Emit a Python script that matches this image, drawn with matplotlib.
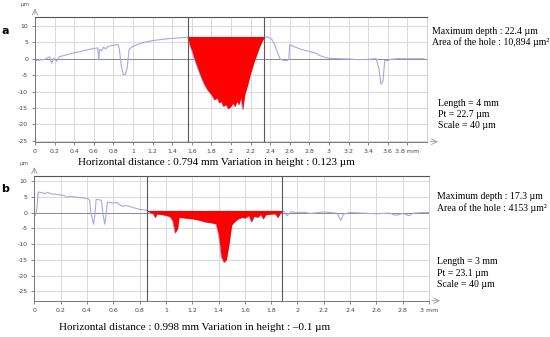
import numpy as np
import matplotlib.pyplot as plt
from matplotlib.transforms import blended_transform_factory


# profile a (x in mm, height in um)
a_x = [
    0.0, 0.05, 0.1, 0.13, 0.15, 0.17, 0.19, 0.22, 0.25, 0.3, 0.35, 0.4, 0.45,
    0.5, 0.55, 0.6, 0.64, 0.65, 0.66, 0.68, 0.7, 0.72, 0.75, 0.8, 0.85, 0.86,
    0.88, 0.9, 0.92, 0.94, 0.96, 1.0, 1.1, 1.2, 1.3, 1.4, 1.5, 1.56,
    1.58, 1.6, 1.62, 1.65, 1.68, 1.7, 1.73, 1.76, 1.8, 1.83, 1.86, 1.88, 1.9,
    1.92, 1.95, 1.97, 2.0, 2.02, 2.04, 2.06, 2.08, 2.1, 2.12, 2.14, 2.17, 2.2,
    2.23, 2.26, 2.29, 2.32, 2.34,
    2.38, 2.42, 2.45, 2.48, 2.5, 2.53, 2.57, 2.59, 2.6, 2.65, 2.7, 2.75, 2.8,
    2.85, 2.88, 2.9, 2.95, 3.0, 3.1, 3.2, 3.3, 3.4, 3.48, 3.51, 3.53, 3.55,
    3.57, 3.6, 3.63, 3.7, 3.8, 3.97
]
a_y = [
    -0.6, -0.4, -0.2, 0.3, 0.6, -1.4, 0.2, -0.8, 0.6, 1.0, 1.4, 1.8, 2.1,
    2.5, 2.8, 3.1, 3.3, -0.4, 2.8, 2.4, 3.5, 3.0, 3.8, 4.1, 4.3, 3.0,
    -2.0, -4.8, -4.9, -3.0, 2.8, 3.8, 4.9, 5.5, 5.9, 6.2, 6.4, 6.5,
    4.0, 2.5, 0.5, -2.0, -4.5, -6.0, -8.0, -9.5, -11.0, -12.5, -12.0, -13.5, -13.0,
    -14.5, -14.0, -15.3, -14.5, -13.5, -14.6, -13.0, -14.0, -12.0, -15.5, -11.0, -8.0, -4.5,
    -1.5, 1.0, 3.5, 5.5, 6.5,
    6.6, 5.8, 4.0, 1.5, 0.0, -0.5, -0.6, -0.2, 4.3, 3.6, 3.0, 2.6, 2.2,
    1.8, 1.5, 1.0, 0.5, 0.1, 0.0, -0.1, -0.3, -0.2, 0.0, -3.0, -7.8, -7.0,
    -0.5, -0.6, -0.2, 0.0, 0.0, 0.0
]

# profile b
b_x = [
    0.0, 0.01, 0.02, 0.03, 0.06, 0.08, 0.1, 0.13, 0.16, 0.2, 0.23, 0.25, 0.27,
    0.3, 0.35, 0.4, 0.42, 0.43, 0.45, 0.46, 0.47, 0.5, 0.51, 0.52, 0.535, 0.545,
    0.555, 0.6, 0.63, 0.65, 0.67, 0.7, 0.75, 0.8, 0.84, 0.86,
    0.88, 0.9, 0.92, 0.93, 0.96, 1.0, 1.03, 1.05, 1.07, 1.09, 1.1, 1.15, 1.2,
    1.25, 1.3, 1.35, 1.38, 1.4, 1.42, 1.44, 1.46, 1.48, 1.5, 1.52, 1.55, 1.58,
    1.6, 1.63, 1.65, 1.67, 1.7, 1.72, 1.74, 1.76, 1.8, 1.83, 1.85, 1.87, 1.886,
    1.9, 1.92, 1.95, 2.0, 2.05, 2.1, 2.2, 2.3, 2.33, 2.35, 2.4, 2.5, 2.6, 2.7,
    2.75, 2.8, 2.85, 2.88, 2.95, 3.0
]
b_y = [
    -1.0, -0.8, 1.5, 6.5, 6.3, 6.0, 6.4, 5.9, 5.8, 5.6, 5.3, 4.8, 5.2,
    5.0, 4.7, 4.5, 4.0, 0.0, -3.7, -1.0, 4.2, 4.0, 3.8, 0.0, -3.7, -1.0,
    3.3, 3.0, 3.2, 2.4, 2.0, 2.2, 1.6, 1.0, 0.8, 0.6,
    0.0, -0.3, -1.6, -0.5, -0.6, -0.9, -1.3, -2.5, -6.5, -5.0, -1.5, -1.8, -2.0,
    -2.4, -3.0, -3.3, -3.6, -7.0, -14.0, -15.8, -15.0, -10.0, -4.0, -3.0, -2.0, -1.5,
    -1.8, -1.0, -3.0, -1.2, -1.5, -0.6, -2.0, -0.7, -0.5, -0.4, -1.6, -0.2, 0.4,
    0.3, -1.0, 0.2, 0.0, 0.1, -0.3, 0.2, -0.2, -2.5, -0.5, 0.0, -0.2, -0.4, -0.2,
    -0.9, -0.3, -1.0, -0.2, 0.0, 0.0
]

panels = [
    dict(label="a", x=a_x, y=a_y, cut=(1.56, 2.34), level=6.5, xmax=4.0,
         ylim=(-25.3, 12.7), rect=[0.0636, 0.5795, 0.7127, 0.370],
         xticks=[0, 0.2, 0.4, 0.6, 0.8, 1, 1.2, 1.4, 1.6, 1.8, 2, 2.2, 2.4,
                 2.6, 2.8, 3, 3.2, 3.4, 3.6, 3.8],
         info1=["Maximum depth : 22.4 µm", "Area of the hole : 10,894 µm²"],
         info1_pos=(432, 0.88, 0.795),
         info2=["Length = 4 mm", "Pt = 22.7 µm", "Scale = 40 µm"],
         info2_pos=(438, 0.31),
         bottom="Horizontal distance : 0.794 mm Variation in height : 0.123 µm",
         bottom_pos=(0.462, -0.17)),
    dict(label="b", x=b_x, y=b_y, cut=(0.86, 1.886), level=0.6, xmax=3.0,
         ylim=(-28.0, 11.7), rect=[0.0624, 0.1077, 0.7176, 0.371],
         xticks=[0, 0.2, 0.4, 0.6, 0.8, 1, 1.2, 1.4, 1.6, 1.8, 2, 2.2, 2.4,
                 2.6, 2.8, 3],
         info1=["Maximum depth : 17.3 µm", "Area of the hole : 4153 µm²"],
         info1_pos=(437, 0.83, 0.74),
         info2=["Length = 3 mm", "Pt = 23.1 µm", "Scale = 40 µm"],
         info2_pos=(437, 0.31),
         bottom="Horizontal distance : 0.998 mm Variation in height : \u20130.1 µm",
         bottom_pos=(0.407, -0.215)),
]

fig = plt.figure(figsize=(5.5, 3.37), dpi=100)

SERIF = "Liberation Serif"
W = 550.0

for p in panels:
    ax = fig.add_axes(p["rect"])
    x = np.array(p["x"])
    y = np.array(p["y"])
    x0, x1 = p["cut"]

    ax.set_xlim(0, p["xmax"])
    ax.set_ylim(*p["ylim"])

    ax.set_xticks(p["xticks"])
    labels = [f"{t:g}" for t in p["xticks"]]
    labels[-1] = labels[-1] + " mm"
    ax.set_xticklabels(labels)
    ax.set_yticks([10, 5, 0, -5, -10, -15, -20, -25])
    ax.set_yticklabels(["10", "5", "0", "-5", "-10", "-15", "-20", "-25"])

    ax.grid(True, color="#dadada", linewidth=0.7)
    ax.set_axisbelow(True)
    ax.axhline(0, color="#8a8a8a", linewidth=0.7, zorder=1)

    # profile
    ax.plot(x, y, color="#a5a8e6", linewidth=0.8, zorder=2)

    # hole area in red
    m = (x >= x0) & (x <= x1)
    ax.fill_between(x[m], y[m], p["level"], color="#ff0000", linewidth=0, zorder=3)
    ax.plot([x0, x1], [p["level"], p["level"]], color="#ff0000", linewidth=0.8, zorder=3)

    ax.axvline(x0, color="#5a5a5a", linewidth=0.8, zorder=4)
    ax.axvline(x1, color="#5a5a5a", linewidth=0.8, zorder=4)

    ax.tick_params(labelsize=4.5, colors="#555555", length=2, width=0.5, pad=3)
    ax.tick_params(axis="both", labelcolor="#444444")
    for s in ["left", "bottom"]:
        ax.spines[s].set_color("#777777")
        ax.spines[s].set_linewidth(0.7)
    ax.spines["top"].set_color("#555555")
    ax.spines["top"].set_linewidth(0.8)
    ax.spines["right"].set_color("#c8c8c8")
    ax.spines["right"].set_linewidth(0.6)

    # axis arrows
    ax.annotate("", xy=(0, 1.09), xytext=(0, 1.0), xycoords="axes fraction",
                arrowprops=dict(arrowstyle="->", color="#999999", lw=0.6))
    ax.annotate("", xy=(1.035, 0), xytext=(1.0, 0), xycoords="axes fraction",
                arrowprops=dict(arrowstyle="->", color="#999999", lw=0.6))
    ax.text(-0.025, 1.1, "µm", transform=ax.transAxes, fontsize=4,
            color="#555555", ha="center", va="center")

    # panel letter
    ax.text(-0.075, 0.89, p["label"], transform=ax.transAxes, fontsize=8,
            fontweight="bold", ha="center", va="center")

    # notes on the right
    tr = blended_transform_factory(fig.transFigure, ax.transAxes)
    fx = p["info1_pos"][0] / W
    for txt, yy in zip(p["info1"], p["info1_pos"][1:]):
        ax.text(fx, yy, txt, fontsize=7.0, family=SERIF, va="center",
                transform=tr)
    gx = p["info2_pos"][0] / W
    for i, t in enumerate(p["info2"]):
        ax.text(gx, p["info2_pos"][1] - i * 0.09, t, fontsize=7.0,
                family=SERIF, va="center", transform=tr)

    ax.text(p["bottom_pos"][0], p["bottom_pos"][1], p["bottom"],
            transform=ax.transAxes, fontsize=8.0, family=SERIF,
            ha="center", va="center")

fig.savefig("out.png", dpi=100)
